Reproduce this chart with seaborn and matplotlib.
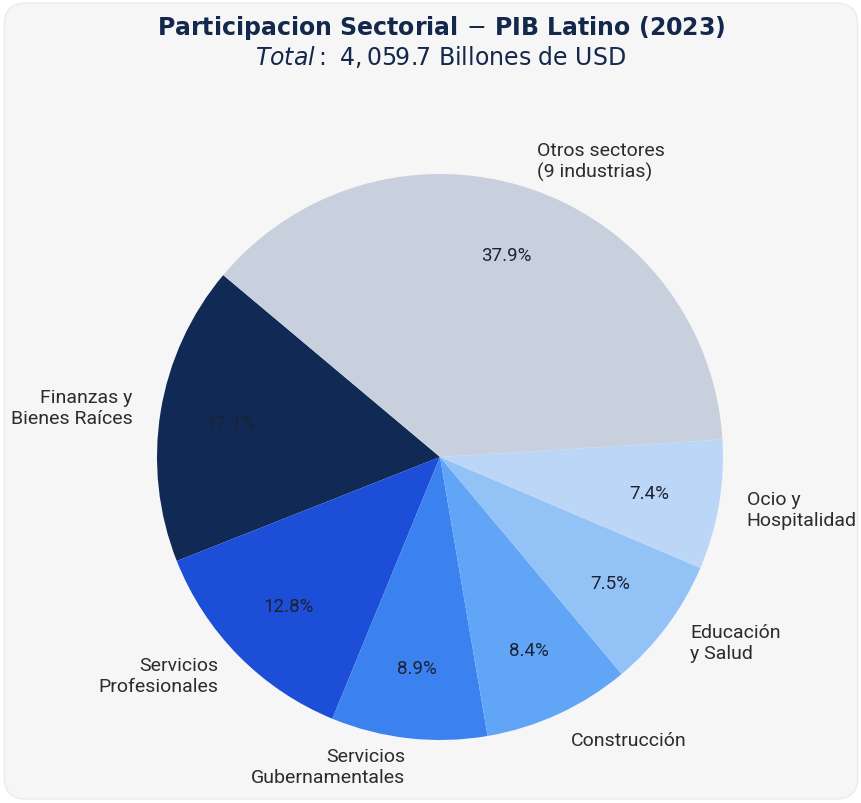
import matplotlib
matplotlib.use("Agg")
import matplotlib.pyplot as plt
from matplotlib.patches import FancyBboxPatch
import seaborn as sns

sectores = ["Finanzas y\nBienes Raíces", "Servicios\nProfesionales", "Servicios\nGubernamentales",
            "Construcción", "Educación\ny Salud", "Ocio y\nHospitalidad", "Otros sectores\n(9 industrias)"]
participacion = [17.1, 12.8, 8.9, 8.4, 7.5, 7.4, 37.9]
colores = ["#102a55", "#1d4ed8", "#3b82f0", "#60a5f6", "#93c2f7", "#bcd6f7", "#c8d0de"]

sns.set_theme(style="white")
plt.rcParams["font.family"] = ["DejaVu Sans"]

fig = plt.figure(figsize=(8.62, 8.04), dpi=100, facecolor="white")
panel = FancyBboxPatch((0.005, 0.005), 0.99, 0.99, boxstyle="round,pad=0,rounding_size=0.025",
                       transform=fig.transFigure, facecolor="#f6f6f7", edgecolor="#ebebeb",
                       linewidth=1, mutation_aspect=862 / 804, zorder=-5)
fig.patches.append(panel)

# pie centre at (440, 458) px, radius ~283 px
W, H, R = 862, 804, 283
cx, cy = 440, H - 458
xl, yl = 1.5, 1.25
ax = fig.add_axes([(cx - xl * R) / W, (cy - yl * R) / H, 2 * xl * R / W, 2 * yl * R / H])
ax.set_facecolor("none")

wedges, texts, autotexts = ax.pie(
    participacion, labels=sectores, colors=sns.color_palette(colores), startangle=140,
    autopct="%1.1f%%", pctdistance=0.75, labeldistance=1.1,
    wedgeprops={"linewidth": 0, "edgecolor": "none"},
    textprops={"fontsize": 14, "family": "Roboto", "color": "#2b2b30"})
for t in autotexts:
    t.set_fontsize(13.5)
    t.set_color("#1c2233")
ax.set_xlim(-xl, xl)
ax.set_ylim(-yl, yl)
ax.set_aspect("equal")
ax.axis("off")

fig.text(441 / W, 1 - 28 / H, "Participacion Sectorial $-$ PIB Latino (2023)", ha="center", va="center",
         fontsize=17, fontweight="bold", color="#14284b")
fig.text(441 / W, 1 - 57 / H, r"$Total:\ 4,059.7$ Billones de USD", ha="center", va="center",
         fontsize=17, color="#14284b")

fig.savefig("out.png", dpi=100, facecolor="white")
